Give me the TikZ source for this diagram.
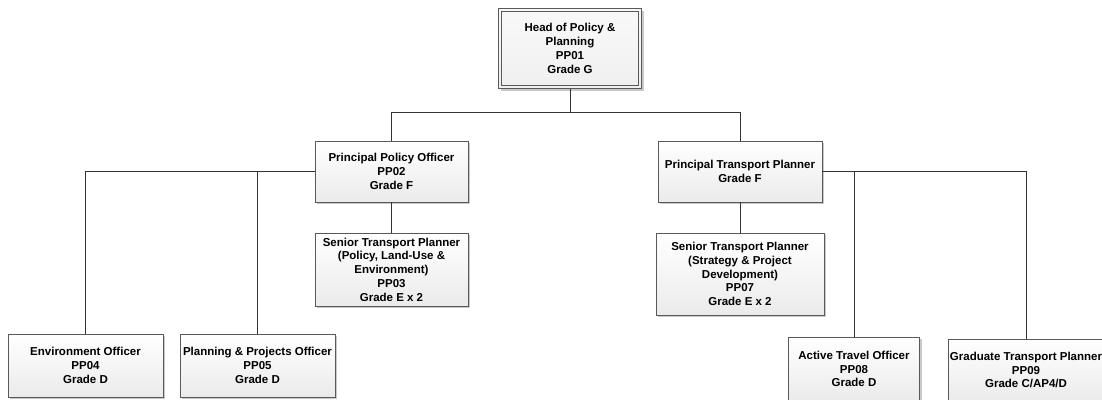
\documentclass[tikz,border=0pt]{standalone}
\usepackage{fontspec}
\setmainfont{Liberation Sans}
\usetikzlibrary{shadows}
\begin{document}
\begin{tikzpicture}[x=1pt,y=-1pt,
  box/.style={draw=black!65, line width=0.8pt, top color=white, bottom color=gray!16,
    drop shadow={shadow xshift=2pt, shadow yshift=-2pt, fill=black!30, opacity=0.7},
    align=center, font=\bfseries\fontsize{11.5}{13.8}\selectfont, inner sep=0pt},
  topbox/.style={box, top color=gray!5, bottom color=gray!12},
  inner border/.style={draw=black!65, line width=0.8pt},
  conn/.style={draw=black!80, line width=0.9pt}]
\useasboundingbox (0,0) rectangle (1102,399);
\clip (0,0) rectangle (1102,399);
\node[topbox, minimum width=143pt, minimum height=80pt] (pp01) at (570,48.5)
  {Head of Policy \&\\Planning\\PP01\\Grade G};
\draw[inner border] ([shift={(3.5,3.5)}]pp01.north west) rectangle ([shift={(-3.5,-3.5)}]pp01.south east);
\node[box, minimum width=153pt, minimum height=61pt] (pp02) at (391.5,171.5)
  {Principal Policy Officer\\PP02\\Grade F};
\node[box, minimum width=164pt, minimum height=61pt] (ppt) at (740,171.5)
  {Principal Transport Planner\\Grade F};
\node[box, minimum width=153pt, minimum height=73pt] (pp03) at (391.5,269.5)
  {Senior Transport Planner\\(Policy, Land-Use \&\\Environment)\\PP03\\Grade E x 2};
\node[box, minimum width=168pt, minimum height=82pt] (pp07) at (740,274)
  {Senior Transport Planner\\(Strategy \& Project\\Development)\\PP07\\Grade E x 2};
\node[box, minimum width=155pt, minimum height=63pt] (pp04) at (85.5,365.5)
  {Environment Officer\\PP04\\Grade D};
\node[box, minimum width=155pt, minimum height=63pt] (pp05) at (257.5,365.5)
  {Planning \& Projects Officer\\PP05\\Grade D};
\node[box, minimum width=131pt, minimum height=64pt] (pp08) at (854,369)
  {Active Travel Officer\\PP08\\Grade D};
\node[box, minimum width=156pt, minimum height=62pt] (pp09) at (1026,370)
  {Graduate Transport Planner\\PP09\\Grade C/AP4/D};
\coordinate (j1) at (570,112);
\draw[conn] (pp01.south) -- (j1);
\draw[conn] (j1) -| (pp02.north);
\draw[conn] (j1) -| (ppt.north);
\draw[conn] (pp02.west) -| (pp04.north);
\draw[conn] (pp02.west) -| (pp05.north);
\draw[conn] (pp02.south) -- (pp03.north);
\draw[conn] (ppt.south) -- (pp07.north);
\draw[conn] (ppt.east) -| (pp08.north);
\draw[conn] (ppt.east) -| (pp09.north);
\end{tikzpicture}
\end{document}
